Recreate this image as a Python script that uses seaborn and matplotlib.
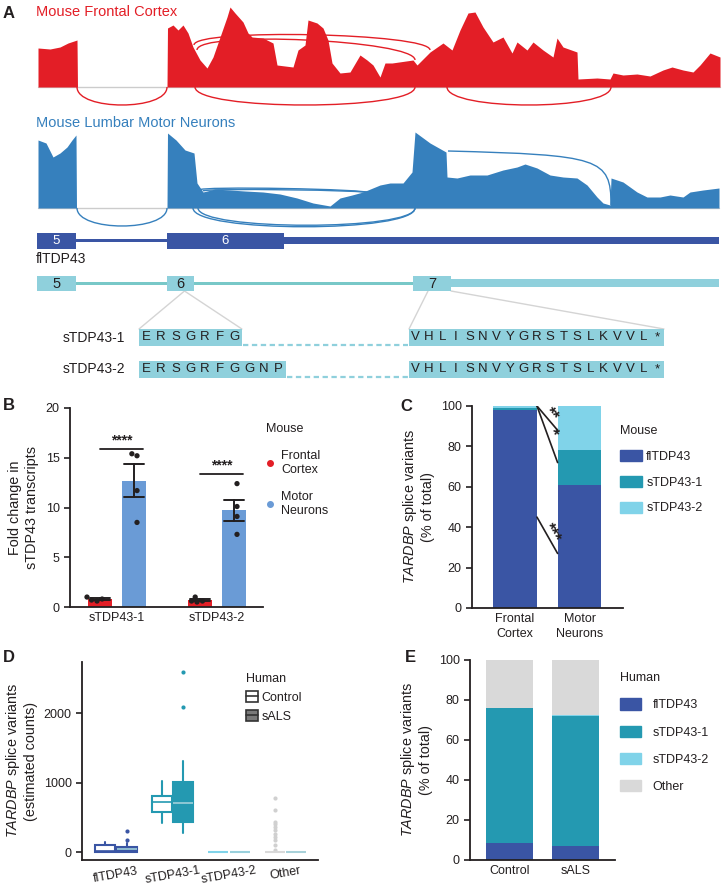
import numpy as np
import pandas as pd
import seaborn as sns
import matplotlib.pyplot as plt
from matplotlib.patches import Patch, Rectangle, PathPatch
from matplotlib.path import Path
from matplotlib.lines import Line2D
from matplotlib.legend_handler import HandlerTuple

# ---------------- data ----------------
# panel A: sashimi coverage, position along the gene (track units) and read depth
red_pos = [38, 50, 60, 68, 77, 77.5, 167, 167.5, 173, 178, 183, 188, 193, 200, 207, 213, 220,
           227, 230, 235, 243, 248, 252, 263, 273, 277, 293, 298, 305, 308, 317, 323, 328, 332, 340, 350, 360,
           367, 373, 380, 385, 392, 413, 417, 430, 443, 452, 460, 468, 475, 483, 493, 503, 512, 517, 527, 533,
           543, 553, 557, 563, 577, 578, 597, 610, 613, 623, 637, 650, 663, 672, 683, 693, 700, 710, 720]
red_depth = [39, 38, 40, 44, 47, 0, 0, 59, 62, 57, 62, 54, 40, 27, 19, 30, 50,
             70, 80, 74, 65, 54, 50, 49, 44, 22, 20, 37, 42, 67, 64, 59, 47, 24, 14, 15, 32,
             27, 22, 10, 24, 24, 27, 22, 35, 44, 37, 57, 74, 75, 60, 45, 50, 34, 45, 37, 45,
             37, 30, 49, 40, 35, 8, 9, 8, 14, 12, 13, 11, 17, 20, 17, 15, 22, 34, 30]
blue_pos = [38, 46, 53, 60, 67, 72, 76, 76.5, 167, 167.5, 176, 185, 194, 197, 203, 215, 230, 245, 263,
            280, 297, 313, 330, 340, 352, 363, 380, 390, 403, 412, 415, 430, 446, 447, 457, 470, 487, 503, 517,
            525, 537, 550, 563, 577, 587, 597, 603, 610, 611, 623, 637, 647, 660, 670, 683, 690, 703, 719]
blue_depth = [68, 65, 51, 55, 61, 68, 73, 0, 0, 75, 68, 58, 55, 25, 16, 19, 18, 17, 16,
              14, 10, 5, 2, 10, 13, 16, 23, 25, 25, 36, 76, 65, 56, 31, 30, 33, 33, 38, 41,
              44, 40, 33, 31, 30, 23, 11, 5, 3, 30, 26, 16, 11, 11, 13, 11, 16, 18, 20]
# junctions: start, end, start level, end level, arc bulge
red_junc = [(77, 167, 87, 87, 24), (195, 415, 87, 87, 24), (447, 611, 87, 87, 24),
            (194, 430, 45, 50, -17), (197, 415, 50, 60, -20)]
blue_junc = [(77, 167, 208, 208, 24), (193, 415, 208, 208, 25), (198, 415, 208, 208, 23),
             (199, 370, 190, 193, -4), (203, 370, 191, 193, -3)]

fl_exon_start = [37, 167]
fl_exon_end = [76, 284]
fl_exon_num = ["5", "6"]
s_exon_start = [37, 167, 413]
s_exon_end = [76, 194, 451]
s_exon_num = ["5", "6", "7"]
gene_end = 719

seq_names = ["sTDP43-1", "sTDP43-2"]
seq_left = ["ERSGRFG", "ERSGRFGGNP"]
seq_right = ["VHLISNVYGRSTSLKVVL*", "VHLISNVYGRSTSLKVVL*"]

# panel B
b_transcripts = ["sTDP43-1", "sTDP43-2"]
b_tissues = ["Frontal Cortex", "Motor Neurons"]
fc_s1 = [0.8, 0.6, 0.7, 1.0]
mn_s1 = [15.2, 15.4, 11.7, 8.5]
fc_s2 = [1.0, 0.6, 0.5, 0.6]
mn_s2 = [12.4, 10.1, 9.1, 7.3]
b_sig_y = [15.9, 13.4]

# panel C (% of total)
c_groups = ["Frontal\nCortex", "Motor\nNeurons"]
c_fl = [98, 61]
c_s1 = [1, 17]
c_s2 = [1, 22]
c_sig_from = [100, 100, 45]
c_sig_to = [88, 72, 27]
c_sig_text = ["**", "*", "***"]

# panel D (estimated counts, box summaries)
d_cats = ["flTDP43", "sTDP43-1", "sTDP43-2", "Other"]
ctrl_med = [10, 715, 0, 0]
ctrl_q1 = [5, 580, 0, 0]
ctrl_q3 = [105, 806, 0, 0]
ctrl_lo = [0, 422, 0, 0]
ctrl_hi = [140, 1021, 0, 0]
ctrl_fliers = [[], [], [], [772, 604, 436, 403, 364, 317, 259, 221, 173, 101, 29]]
sals_med = [38, 700, 0, 0]
sals_q1 = [5, 436, 0, 0]
sals_q3 = [67, 1012, 0, 0]
sals_lo = [0, 278, 0, 0]
sals_hi = [125, 1314, 0, 0]
sals_fliers = [[172, 297], [2082, 2595], [], []]

# panel E (% of total)
e_groups = ["Control", "sALS"]
e_fl = [8.3, 6.8]
e_s1 = [67.7, 65.4]
e_s2 = [0.2, 0.2]
e_other = [23.8, 27.6]

# ---------------- style ----------------
RED = "#e31e26"
COV_BLUE = "#3680bd"
FL = "#3a55a4"
S1 = "#2499b1"
S2 = "#80d3e9"
OTHER = "#d9d9d9"
MN_BLUE = "#6a9bd6"
BOX_CYAN = "#8fd0dc"
TEAL = "#78c8c8"
INK = "#231f20"

sns.set_theme(style="ticks")
plt.rcParams["font.family"] = ["Liberation Sans", "DejaVu Sans"]
plt.rcParams["mathtext.fontset"] = "custom"
plt.rcParams["mathtext.it"] = "Liberation Sans:italic"
plt.rcParams["mathtext.rm"] = "Liberation Sans"
plt.rcParams.update({"font.size": 9, "axes.labelsize": 10.4, "xtick.labelsize": 9, "ytick.labelsize": 9,
                     "axes.edgecolor": INK, "axes.linewidth": 1.3, "text.color": INK,
                     "axes.labelcolor": INK, "xtick.color": INK, "ytick.color": INK,
                     "ytick.major.size": 4, "ytick.major.width": 1.2, "xtick.major.size": 0,
                     "legend.fontsize": 9, "legend.title_fontsize": 9})

W, H = 723, 892


def fx(px):
    return px / W


def fy(py):
    return 1 - py / H


def axes_px(left, top, right, bottom):
    return fig.add_axes([fx(left), fy(bottom), (right - left) / W, (bottom - top) / H])


def bezier(ax, verts, color, z=2):
    path = Path(verts, [Path.MOVETO, Path.CURVE4, Path.CURVE4, Path.CURVE4])
    ax.add_patch(PathPatch(path, fill=False, ec=color, lw=1, zorder=z))


fig = plt.figure(figsize=(W / 100, H / 100), dpi=100)

# ---------------- panel A ----------------
ax_a = axes_px(0, 0, W, 392)
ax_a.set_xlim(0, W)
ax_a.set_ylim(392, 0)
ax_a.axis("off")

for pos, depth, base, col, junc in [(red_pos, red_depth, 87, RED, red_junc),
                                    (blue_pos, blue_depth, 208, COV_BLUE, blue_junc)]:
    ax_a.plot([pos[0], pos[-1]], [base + 0.5, base + 0.5], color="#cccccc", lw=1, zorder=1)
    ax_a.fill_between(pos, base, base - np.array(depth), color=col, lw=0, zorder=3)
    for x0, x1, y0, y1, d in junc:
        bezier(ax_a, [(x0, y0), (x0, y0 + d), (x1, y1 + d), (x1, y1)], col)
bezier(ax_a, [(448, 151), (600, 155), (611, 158), (611, 205)], COV_BLUE)

ax_a.text(36, 12, "Mouse Frontal Cortex", color=RED, fontsize=10.5, va="center")
ax_a.text(36, 123, "Mouse Lumbar Motor Neurons", color=COV_BLUE, fontsize=10.5, va="center")

# gene models
ax_a.add_patch(Rectangle((fl_exon_end[0], 239), fl_exon_start[1] - fl_exon_end[0], 3, color=FL, lw=0))
ax_a.add_patch(Rectangle((fl_exon_end[-1], 237), gene_end - fl_exon_end[-1], 7, color=FL, lw=0))
for s, e, n in zip(fl_exon_start, fl_exon_end, fl_exon_num):
    ax_a.add_patch(Rectangle((s, 233), e - s, 16, color=FL, lw=0))
    ax_a.text((s + e) / 2, 241, n, color="white", fontsize=9.5, ha="center", va="center")
ax_a.text(36, 259, "flTDP43", fontsize=10, va="center")

for a, b in zip(s_exon_end[:-1], s_exon_start[1:]):
    ax_a.add_patch(Rectangle((a, 282), b - a, 3, color=TEAL, lw=0))
ax_a.add_patch(Rectangle((s_exon_end[-1], 279), gene_end - s_exon_end[-1], 8, color=BOX_CYAN, lw=0))
for s, e, n in zip(s_exon_start, s_exon_end, s_exon_num):
    ax_a.add_patch(Rectangle((s, 276), e - s, 15, color=BOX_CYAN, lw=0))
    ax_a.text((s + e) / 2, 283.5, n, color=INK, fontsize=10.5, ha="center", va="center")

# sequences
row_y = [337.5, 369]
left0, right0, right1 = 139, 409, 664
pitch_l = 14.7
pitch_r = (right1 - right0) / len(seq_right[0])
for k, name in enumerate(seq_names):
    yc = row_y[k]
    ax_a.text(125, yc, name, ha="right", va="center", fontsize=10)
    lend = left0 + pitch_l * len(seq_left[k])
    ax_a.add_patch(Rectangle((left0, yc - 8.5), lend - left0, 17, color=BOX_CYAN, lw=0))
    ax_a.add_patch(Rectangle((right0, yc - 8.5), right1 - right0, 17, color=BOX_CYAN, lw=0))
    ax_a.plot([lend + 1, right0 - 1], [yc + 8, yc + 8], color=BOX_CYAN, lw=1.6, dashes=(2.4, 1.6))
    for i, ch in enumerate(seq_left[k]):
        ax_a.text(left0 + pitch_l * (i + 0.5), yc, ch, ha="center", va="center", fontsize=9.5)
    for i, ch in enumerate(seq_right[k]):
        ax_a.text(right0 + pitch_r * (i + 0.5), yc, ch, ha="center", va="center", fontsize=9.5)

# connectors from exons to sequences
row1_lend = left0 + pitch_l * len(seq_left[0])
ex6 = (s_exon_start[1] + s_exon_end[1]) / 2 + 4
ax_a.plot([ex6, left0], [291, row_y[0] - 8.5], color="#d4d4d4", lw=1, zorder=0)
ax_a.plot([ex6, row1_lend], [291, row_y[0] - 8.5], color="#d4d4d4", lw=1, zorder=0)
ax_a.plot([s_exon_start[2] + 15, right0], [291, row_y[0] - 8.5], color="#d4d4d4", lw=1, zorder=0)
ax_a.plot([s_exon_end[2], right1], [291, row_y[0] - 8.5], color="#d4d4d4", lw=1, zorder=0)

# ---------------- panel B ----------------
ax_b = axes_px(70, 408, 263, 607)
b_df = pd.DataFrame({
    "transcript": ["sTDP43-1"] * 8 + ["sTDP43-2"] * 8,
    "tissue": (["Frontal Cortex"] * 4 + ["Motor Neurons"] * 4) * 2,
    "fold": fc_s1 + mn_s1 + fc_s2 + mn_s2,
})
sns.barplot(data=b_df, x="transcript", y="fold", hue="tissue", hue_order=b_tissues,
            palette=[RED, MN_BLUE], errorbar="se", capsize=0.4, saturation=1,
            err_kws={"color": INK, "linewidth": 1.4}, width=0.68, gap=0.27,
            linewidth=0, legend=False, ax=ax_b)
sns.swarmplot(data=b_df, x="transcript", y="fold", hue="tissue", hue_order=b_tissues,
              palette=[INK, INK], dodge=True, size=3.8, legend=False, ax=ax_b)
for i, yv in enumerate(b_sig_y):
    ax_b.plot([i - 0.17, i + 0.26], [yv, yv], color=INK, lw=1.3)
    ax_b.text(i + 0.045, yv + 0.15, "****", ha="center", va="bottom", fontsize=10, fontweight="bold")
ax_b.set_ylim(0, 20)
ax_b.set_yticks([0, 5, 10, 15, 20])
ax_b.set_xlim(-0.47, 1.46)
ax_b.set_xlabel("")
ax_b.set_ylabel("Fold change in\nsTDP43 transcripts", labelpad=5)
sns.despine(ax=ax_b)

fig.legend(handles=[Line2D([], [], marker="o", ls="", color=RED, markersize=4, label="Frontal\nCortex"),
                    Line2D([], [], marker="o", ls="", color=MN_BLUE, markersize=4, label="Motor\nNeurons")],
           title="Mouse", alignment="left", loc="upper left", bbox_to_anchor=(fx(266), fy(423)),
           frameon=False, borderpad=0, borderaxespad=0, handlelength=0.6, handletextpad=0.6,
           labelspacing=1.2)


# ---------------- stacked panels C, E ----------------
def stacked(ax, groups, layers, colors, width):
    tops = np.cumsum(np.array(layers, dtype=float), axis=0)
    for top, col in reversed(list(zip(tops, colors))):
        sns.barplot(x=groups, y=top, color=col, width=width, saturation=1, errorbar=None,
                    linewidth=0, ax=ax)
    ax.set_ylim(0, 100)
    ax.set_yticks([0, 20, 40, 60, 80, 100])
    ax.set_ylabel("$\\it{TARDBP}$ splice variants\n(% of total)")
    for lab in ax.get_xticklabels():
        lab.set_linespacing(1.35)
    sns.despine(ax=ax)


ax_c = axes_px(472, 406, 623, 608)
stacked(ax_c, c_groups, [c_fl, c_s1, c_s2], [FL, S1, S2], 0.68)
ax_c.set_xlim(-0.667, 1.674)
for y0, y1, txt in zip(c_sig_from, c_sig_to, c_sig_text):
    ax_c.plot([0.34, 0.66], [y0, y1], color=INK, lw=1.2)
    p0 = ax_c.transData.transform((0.34, y0))
    p1 = ax_c.transData.transform((0.66, y1))
    d = p1 - p0
    ang = np.degrees(np.arctan2(d[1], d[0]))
    nrm = np.array([-d[1], d[0]]) / np.hypot(*d)
    mid = (p0 + p1) / 2 + nrm * 5
    tx, ty = ax_c.transData.inverted().transform(mid)
    ax_c.text(tx, ty, txt, rotation=ang, rotation_mode="anchor", ha="center", va="center",
              fontsize=12, fontweight="bold")
fig.legend(handles=[Patch(color=FL, label="flTDP43"), Patch(color=S1, label="sTDP43-1"),
                    Patch(color=S2, label="sTDP43-2")],
           title="Mouse", alignment="left", loc="upper left", bbox_to_anchor=(fx(620), fy(425)),
           frameon=False, borderpad=0, borderaxespad=0, handlelength=1.75, handleheight=0.95,
           handletextpad=0.35, labelspacing=1.05)

ax_e = axes_px(470, 660, 615, 860)
stacked(ax_e, e_groups, [e_fl, e_s1, e_s2, e_other], [FL, S1, S2, OTHER], 0.71)
ax_e.set_xlim(-0.6, 1.6)
fig.legend(handles=[Patch(color=FL, label="flTDP43"), Patch(color=S1, label="sTDP43-1"),
                    Patch(color=S2, label="sTDP43-2"), Patch(color=OTHER, label="Other")],
           title="Human", alignment="left", loc="upper left", bbox_to_anchor=(fx(620), fy(672)),
           frameon=False, borderpad=0, borderaxespad=0, handlelength=1.7, handleheight=1.0,
           handletextpad=0.9, labelspacing=1.15)

# ---------------- panel D ----------------
ax_d = axes_px(82, 662, 318, 860)
d_colors = [FL, S1, S2, OTHER]
for i, col in enumerate(d_colors):
    groups = [(ctrl_med, ctrl_q1, ctrl_q3, ctrl_lo, ctrl_hi, ctrl_fliers, -0.19, "white"),
              (sals_med, sals_q1, sals_q3, sals_lo, sals_hi, sals_fliers, 0.19, col)]
    for med, q1, q3, lo, hi, fl, off, fc in groups:
        stats = [{"med": med[i], "q1": q1[i], "q3": q3[i], "whislo": lo[i], "whishi": hi[i],
                  "fliers": fl[i]}]
        ax_d.bxp(stats, positions=[i + off], widths=0.35, patch_artist=True, showcaps=False,
                 manage_ticks=False,
                 boxprops={"facecolor": fc, "edgecolor": col, "linewidth": 1.5},
                 whiskerprops={"color": col, "linewidth": 1.5},
                 medianprops={"color": col if fc == "white" else "#9fd0da", "linewidth": 1.2},
                 flierprops={"marker": "o", "markerfacecolor": "#d0d0d0" if col == OTHER else col,
                             "markeredgecolor": "none", "markersize": 3})
ax_d.set_xlim(-0.6, 3.575)
ax_d.set_ylim(-115, 2735)
ax_d.set_yticks([0, 1000, 2000])
ax_d.set_xticks(range(len(d_cats)), d_cats, rotation=10)
ax_d.set_ylabel("$\\it{TARDBP}$ splice variants\n(estimated counts)")
sns.despine(ax=ax_d)
icon_ctrl = (Patch(facecolor="white", edgecolor="#333333", lw=1.2), Line2D([], [], color="#333333", lw=1.2))
icon_sals = (Patch(facecolor="#7a7a7a", edgecolor="#333333", lw=1.2), Line2D([], [], color="#333333", lw=1.2))
fig.legend([icon_ctrl, icon_sals], ["Control", "sALS"], handler_map={tuple: HandlerTuple(ndivide=1, pad=0)},
           title="Human", alignment="left", loc="upper left", bbox_to_anchor=(fx(246), fy(673)),
           frameon=False, borderpad=0, borderaxespad=0, handlelength=0.95, handleheight=0.95,
           handletextpad=0.3, labelspacing=0.5)

# ---------------- panel letters ----------------
for letter, px, py in [("A", 3, 14), ("B", 3, 405), ("C", 400, 407), ("D", 3, 658), ("E", 405, 658)]:
    fig.text(fx(px), fy(py), letter, fontsize=12, fontweight="bold", va="center", ha="left")

fig.savefig("out.png", dpi=100)
